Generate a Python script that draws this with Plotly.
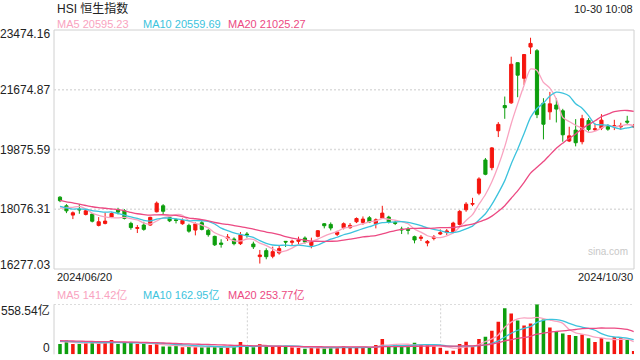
import plotly.graph_objects as go
import pandas as pd

# ---------------- data ----------------
dates = ["2024-06-20","2024-06-21","2024-06-24","2024-06-25","2024-06-26","2024-06-27","2024-06-28",
         "2024-07-02","2024-07-03","2024-07-04","2024-07-05","2024-07-08","2024-07-09","2024-07-10","2024-07-11","2024-07-12",
         "2024-07-15","2024-07-16","2024-07-17","2024-07-18","2024-07-19","2024-07-22","2024-07-23","2024-07-24","2024-07-25","2024-07-26",
         "2024-07-29","2024-07-30","2024-07-31","2024-08-01","2024-08-02","2024-08-05","2024-08-06","2024-08-07","2024-08-08","2024-08-09",
         "2024-08-12","2024-08-13","2024-08-14","2024-08-15","2024-08-16","2024-08-19","2024-08-20","2024-08-21","2024-08-22","2024-08-23",
         "2024-08-26","2024-08-27","2024-08-28","2024-08-29","2024-08-30","2024-09-02","2024-09-03","2024-09-04","2024-09-05","2024-09-09",
         "2024-09-10","2024-09-11","2024-09-12","2024-09-13","2024-09-16","2024-09-17","2024-09-19","2024-09-20","2024-09-23","2024-09-24",
         "2024-09-25","2024-09-26","2024-09-27","2024-09-30","2024-10-02","2024-10-03","2024-10-04","2024-10-07","2024-10-08","2024-10-09",
         "2024-10-10","2024-10-14","2024-10-15","2024-10-16","2024-10-17","2024-10-18","2024-10-21","2024-10-22","2024-10-23","2024-10-24",
         "2024-10-25","2024-10-28","2024-10-29","2024-10-30"]

opens = [18440,18180,17900,18080,17920,17930,17590,17650,17840,18060,18030,17650,17500,17600,17600,18000,
         18180,17830,17760,17640,17590,17450,17670,17440,17260,17060,17200,17180,17040,17330,17030,16650,16830,16660,16760,17110,
         17080,17110,17210,16990,17260,17640,17620,17320,17520,17520,17700,17680,17820,17640,17810,17840,17680,17480,17470,17250,
         17200,17060,17200,17330,17380,17400,17620,18060,18230,18560,19560,19330,20440,21200,21280,22490,22020,22960,22850,21270,
         21010,21215,21040,20130,20460,20110,20750,20470,20520,20580,20560,20560,20730,20560]
highs = [18470,18230,18010,18230,18070,17950,17840,17975,17980,18120,18080,17700,17600,17700,17850,18310,
         18230,17860,17800,17800,17640,17680,17720,17480,17280,17172,17330,17230,17390,17390,17100,16850,16900,16950,16990,17120,
         17160,17250,17260,17220,17450,17660,17680,17430,17680,17660,17830,17860,17870,17800,18180,17880,17740,17550,17540,17280,
         17300,17150,17300,17470,17480,17700,18050,18290,18420,19040,19620,19950,20700,21470,22670,22500,22750,23241,22900,21420,
         21610,21420,21100,20560,20790,20920,20820,20660,20940,20640,20770,20680,20890,20640]
lows = [18290,17960,17780,17940,17890,17680,17560,17620,17810,17920,17770,17460,17360,17430,17580,17980,
        17930,17690,17650,17610,17370,17290,17440,17250,16970,16920,17120,16990,17000,17220,16880,16441,16570,16600,16710,16940,
        16970,17030,17040,16900,17230,17500,17440,17270,17470,17490,17660,17610,17660,17500,17790,17650,17600,17330,17320,17050,
        17120,16960,17140,17300,17300,17380,17590,18000,18170,18500,19100,19250,20250,20800,21250,21450,21820,22750,20820,20180,
        20770,20690,20110,20100,19970,20030,20420,20430,20460,20440,20460,20470,20610,20530]
closes = [18335,18028,17970,18060,18030,17716,17700,17720,17950,17990,17800,17524,17523,17471,17832,18260,
          18015,17727,17739,17740,17417,17635,17469,17311,17005,17021,17238,17040,17300,17304,16946,16698,16647,16800,16891,17090,
          17112,17150,17090,17090,17430,17580,17511,17391,17641,17590,17798,17780,17692,17760,17960,17691,17651,17457,17444,17150,
          17234,17108,17240,17369,17422,17660,18013,18230,18247,18990,19129,19924,20632,21133,22443,22113,22736,23070,20926,20637,
          21251,21092,20318,20286,20079,20804,20478,20498,20760,20489,20590,20599,20701,20598]
volumes = [115,153,115,115,130,130,123,141,160,115,130,130,115,115,104,123,
           86,86,93,78,93,78,78,86,86,78,78,86,138,86,78,115,86,86,86,86,
           78,71,63,71,78,67,78,78,93,78,78,78,78,104,171,86,115,93,97,130,
           104,104,86,74,41,41,115,141,86,171,197,264,365,514,455,378,323,345,558,390,
           300,248,233,216,205,220,178,137,182,141,190,179,160,37]

# closes / volumes of the 19 sessions before the window (feed the moving averages)
prior_closes = [18868,18609,18827,18821,18477,18230,18079,18403,18444,18425,18476,18367,17956,18176,18113,17942,17936,17915,18430]
prior_volumes = [165,150,158,172,160,148,155,162,170,145,152,140,158,149,135,160,142,150,138]

price_ticks = [23474.16, 21674.87, 19875.59, 18076.31, 16277.03]
price_tick_text = ["23474.16", "21674.87", "19875.59", "18076.31", "16277.03"]
vol_ticks = [558.54, 0]
vol_tick_text = ["558.54亿", "0"]
title_text = "HSI 恒生指数"
time_text = "10-30 10:08"
start_label, end_label = "2024/06/20", "2024/10/30"
ma_price_labels = ["MA5 20595.23", "MA10 20559.69", "MA20 21025.27"]
ma_vol_labels = ["MA5 141.42亿", "MA10 162.95亿", "MA20 253.77亿"]
ma_periods = [5, 10, 20]

# ---------------- styling ----------------
W, H = 640, 360
RED, GREEN = "#f5160f", "#0d9e0d"
MA_COLORS = ["#f9a3c0", "#3cc3dd", "#ec4a83"]
FONT = "Arial, 'Liberation Sans', 'Noto Sans CJK SC', sans-serif"
L, R = 54, 634
MAIN_T, MAIN_B = 30, 269
VOL_T, VOL_B = 304.3, 354.3


def fx(p):
    return p / W


def fy(p):
    return 1 - p / H


n = len(closes)
idx = list(range(n))
xr = [-0.93, n - 1 + 0.05]

fig = go.Figure()

fig.add_trace(go.Candlestick(
    x=idx, open=opens, high=highs, low=lows, close=closes,
    increasing=dict(line=dict(color=RED, width=1), fillcolor=RED),
    decreasing=dict(line=dict(color=GREEN, width=1), fillcolor=GREEN),
    whiskerwidth=0, showlegend=False, hoverinfo="skip", xaxis="x", yaxis="y"))

all_close = pd.Series(prior_closes + closes, dtype=float)
all_vol = pd.Series(prior_volumes + volumes, dtype=float)
off = len(prior_closes)
for p, c in zip(ma_periods, MA_COLORS):
    fig.add_trace(go.Scatter(x=idx, y=all_close.rolling(p).mean().iloc[off:].tolist(), mode="lines",
                             line=dict(color=c, width=1.3, shape="spline", smoothing=0.6),
                             showlegend=False, hoverinfo="skip", xaxis="x", yaxis="y"))

bar_colors = [RED if c >= o else GREEN for o, c in zip(opens, closes)]
fig.add_trace(go.Bar(x=idx, y=volumes, marker=dict(color=bar_colors, line=dict(width=0)), width=0.55,
                     showlegend=False, hoverinfo="skip", xaxis="x2", yaxis="y2"))
for p, c in zip(ma_periods, MA_COLORS):
    fig.add_trace(go.Scatter(x=idx, y=all_vol.rolling(p).mean().iloc[off:].tolist(), mode="lines",
                             line=dict(color=c, width=1.3, shape="spline", smoothing=0.6),
                             showlegend=False, hoverinfo="skip", xaxis="x2", yaxis="y2"))

hidden = dict(showgrid=False, zeroline=False, showticklabels=False, showline=False, ticks="")
fig.update_layout(
    width=W, height=H, margin=dict(l=0, r=0, t=0, b=0),
    paper_bgcolor="white", plot_bgcolor="white",
    font=dict(family=FONT, size=12, color="#222"),
    xaxis=dict(domain=[fx(L), fx(R)], range=xr, rangeslider=dict(visible=False), anchor="y", **hidden),
    yaxis=dict(domain=[fy(MAIN_B), fy(MAIN_T)], range=[price_ticks[-1], price_ticks[0]], anchor="x", **hidden),
    xaxis2=dict(domain=[fx(L), fx(R)], range=xr, anchor="y2", **hidden),
    yaxis2=dict(domain=[fy(VOL_B), fy(VOL_T)], range=[vol_ticks[1], vol_ticks[0]], anchor="x2", **hidden),
    bargap=0.4,
)

shapes = []
# main frame
shapes.append(dict(type="rect", xref="paper", yref="paper", x0=fx(L), x1=fx(R), y0=fy(MAIN_B), y1=fy(MAIN_T),
                   line=dict(color="#d0d0d0", width=1), layer="below"))
for v in price_ticks[1:-1]:
    shapes.append(dict(type="line", xref="paper", yref="y", x0=fx(L), x1=fx(R), y0=v, y1=v,
                       line=dict(color="#dcdcdc", width=1.5, dash="2px,2px"), layer="below"))
# volume panel
shapes.append(dict(type="line", xref="paper", yref="y2", x0=fx(L), x1=fx(R), y0=vol_ticks[0], y1=vol_ticks[0],
                   line=dict(color="#d0d0d0", width=1.5, dash="2px,2px"), layer="below"))
shapes.append(dict(type="line", xref="paper", yref="paper", x0=fx(L), x1=fx(L), y0=fy(VOL_B), y1=fy(VOL_T),
                   line=dict(color="#d0d0d0", width=1), layer="below"))
for k in (1, 2):
    xp = L + (R - L) * k / 3
    shapes.append(dict(type="line", xref="paper", yref="paper", x0=fx(xp), x1=fx(xp), y0=fy(VOL_B), y1=fy(VOL_T),
                       line=dict(color="#d0d0d0", width=1, dash="2px,2px"), layer="below"))
fig.update_layout(shapes=shapes)

ann = []
# price axis labels
shifts = [-4, 0, 0, 0, 4]
for v, t, s in zip(price_ticks, price_tick_text, shifts):
    ann.append(dict(xref="paper", yref="y", x=fx(52), y=v, text=t, showarrow=False, xanchor="right",
                    yanchor="middle", yshift=s, font=dict(size=12, color="#222")))
for v, t, s in zip(vol_ticks, vol_tick_text, [-6, 6]):
    ann.append(dict(xref="paper", yref="y2", x=fx(52), y=v, text=t, showarrow=False, xanchor="right",
                    yanchor="middle", yshift=s, font=dict(size=12, color="#222")))
ann.append(dict(xref="paper", yref="paper", x=fx(55), y=fy(8), text=title_text, showarrow=False,
                xanchor="left", yanchor="middle", font=dict(size=12, color="#222")))
ann.append(dict(xref="paper", yref="paper", x=fx(635), y=fy(9), text=time_text, showarrow=False,
                xanchor="right", yanchor="middle", font=dict(size=11, color="#222")))
for xpix, t, c in zip([55, 140.5, 225.5], ma_price_labels, MA_COLORS):
    ann.append(dict(xref="paper", yref="paper", x=fx(xpix), y=fy(24), text=t, showarrow=False,
                    xanchor="left", yanchor="middle", font=dict(size=11, color=c)))
for xpix, t, c in zip([55, 140.5, 225.5], ma_vol_labels, MA_COLORS):
    ann.append(dict(xref="paper", yref="paper", x=fx(xpix), y=fy(295), text=t, showarrow=False,
                    xanchor="left", yanchor="middle", font=dict(size=11, color=c)))
ann.append(dict(xref="paper", yref="paper", x=fx(55), y=fy(277), text=start_label, showarrow=False,
                xanchor="left", yanchor="middle", font=dict(size=11, color="#222")))
ann.append(dict(xref="paper", yref="paper", x=fx(635), y=fy(277), text=end_label, showarrow=False,
                xanchor="right", yanchor="middle", font=dict(size=11, color="#222")))
ann.append(dict(xref="paper", yref="paper", x=fx(630), y=fy(252), text="sina.com", showarrow=False,
                xanchor="right", yanchor="middle", font=dict(size=10, color="#c8c8c8")))
fig.update_layout(annotations=ann)

fig.write_html("out.html", config={"displayModeBar": False, "staticPlot": True},
               post_script="document.body.style.margin='0';document.body.style.overflow='hidden';")
